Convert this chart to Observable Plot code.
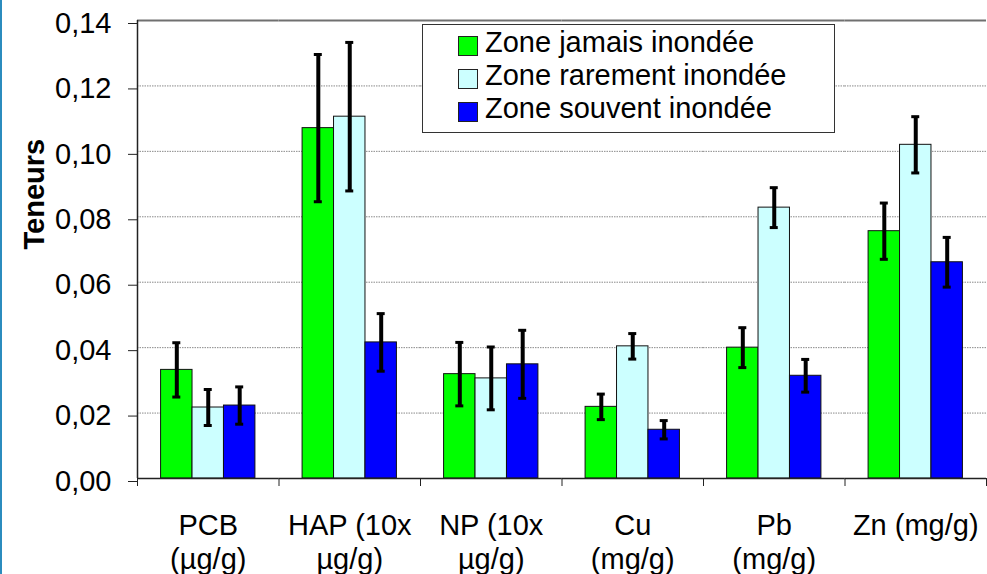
<!DOCTYPE html>
<html>
<head>
<meta charset="utf-8">
<script src="https://cdn.jsdelivr.net/npm/d3@7"></script>
<script src="https://cdn.jsdelivr.net/npm/@observablehq/plot@0.6"></script>
<style>
  html, body { margin: 0; padding: 0; background: #fff; }
  #wrap { position: relative; width: 987px; height: 574px; overflow: hidden; font-family: "Liberation Sans", Arial, sans-serif; }
  #chart svg { display: block; }
  #edge { position: absolute; left: 0; top: 0; width: 2px; height: 574px; background: #2b8cbe; }
  #legend { position: absolute; left: 422px; top: 24px; width: 411px; height: 107px; border: 1px solid #333; background: #fff; }
  .row { position: absolute; left: 0; height: 33px; line-height: 33px; font-size: 29px; color: #000; white-space: nowrap; }
  .sw { position: absolute; left: 35px; top: 10px; width: 18px; height: 18px; border: 1px solid #222; }
  .lab { position: absolute; left: 62px; top: 0; }
</style>
</head>
<body>
<div id="wrap"><div id="chart"></div><div id="legend"></div><div id="edge"></div></div>
<script>
// ---- data ----
const categories = ["PCB (µg/g)", "HAP (10x µg/g)", "NP (10x µg/g)", "Cu (mg/g)", "Pb (mg/g)", "Zn (mg/g)"];
const categoryLabels = ["PCB\n(µg/g)", "HAP (10x\nµg/g)", "NP (10x\nµg/g)", "Cu\n(mg/g)", "Pb\n(mg/g)", "Zn (mg/g)"];
const series = ["Zone jamais inondée", "Zone rarement inondée", "Zone souvent inondée"];
const colors = ["#00ff00", "#ccffff", "#0000ff"];
const jamais      = [0.0332, 0.1071, 0.0319, 0.0219, 0.0400, 0.0756];
const jamaisErr   = [0.0083, 0.0225, 0.0097, 0.0039, 0.0061, 0.0086];
const rarement    = [0.0217, 0.1106, 0.0306, 0.0404, 0.0828, 0.1020];
const rarementErr = [0.0055, 0.0227, 0.0096, 0.0039, 0.0061, 0.0086];
const souvent     = [0.0223, 0.0416, 0.0349, 0.0149, 0.0314, 0.0661];
const souventErr  = [0.0057, 0.0088, 0.0104, 0.0028, 0.0050, 0.0076];
const yTicks = [0, 0.02, 0.04, 0.06, 0.08, 0.10, 0.12, 0.14];
const yTickLabels = ["0,00", "0,02", "0,04", "0,06", "0,08", "0,10", "0,12", "0,14"];
const yTitle = "Teneurs";

// ---- table ----
const values = [jamais, rarement, souvent];
const errors = [jamaisErr, rarementErr, souventErr];
const rows = categories.flatMap((c, i) => series.map((s, j) => ({
  cat: c, series: s, value: values[j][i], lo: values[j][i] - errors[j][i], hi: values[j][i] + errors[j][i]
})));

// ---- layout ----
const W = 987, H = 574, mL = 137, mR = 1, mT = 20, mB = 96;
const facetW = (W - mL - mR) / categories.length;
const padOuter = 0.75;
const step = facetW / (series.length + 2 * padOuter);
const capInset = (step - 8) / 2;
const yMax = yTicks[yTicks.length - 1];
const FS = 29;

const chart = Plot.plot({
  width: W, height: H,
  marginLeft: mL, marginRight: mR, marginTop: mT, marginBottom: mB,
  style: { fontFamily: '"Liberation Sans", Arial, sans-serif', fontSize: FS + "px", color: "#000", background: "transparent" },
  fx: { domain: categories, padding: 0, round: false, label: null },
  x: { domain: series, paddingInner: 0, paddingOuter: padOuter, round: false, axis: null },
  y: { domain: [0, yMax], axis: null },
  color: { domain: series, range: colors },
  marks: [
    Plot.ruleY(yTicks.slice(1, -1), { stroke: "#8a8a8a", strokeDasharray: "1.5,1", strokeWidth: 1 }),
    Plot.ruleY([yMax], { stroke: "#707070", strokeWidth: 2 }),
    Plot.barY(rows, { fx: "cat", x: "series", y: "value", fill: "series", stroke: "#111", strokeWidth: 1 }),
    Plot.ruleX(rows, { fx: "cat", x: "series", y1: "lo", y2: "hi", stroke: "#000", strokeWidth: 4 }),
    Plot.tickY(rows, { fx: "cat", x: "series", y: "lo", stroke: "#000", strokeWidth: 3, insetLeft: capInset, insetRight: capInset }),
    Plot.tickY(rows, { fx: "cat", x: "series", y: "hi", stroke: "#000", strokeWidth: 3, insetLeft: capInset, insetRight: capInset }),
    Plot.ruleY([0], { stroke: "#222", strokeWidth: 1.5 }),
    Plot.ruleX([{ cat: categories[0], s: series[0] }], { fx: "cat", x: "s", y1: 0, y2: yMax, dx: -(padOuter + 0.5) * step, stroke: "#222", strokeWidth: 1.5 }),
    Plot.axisY({ ticks: yTicks, tickSize: 9, tickPadding: 17, dy: 3, tickFormat: (d) => yTickLabels[yTicks.indexOf(d)], fontSize: FS, label: null, stroke: "#222" }),
    Plot.text([{ cat: categories[0], t: yTitle }], { fx: "cat", text: "t", frameAnchor: "left", dx: -103, rotate: -90, fontWeight: "bold", fontSize: FS }),
    Plot.axisFx({ anchor: "bottom", tickSize: 8, tickFormat: () => "", dx: -facetW / 2, label: null, stroke: "#222" }),
    Plot.axisFx({ anchor: "bottom", ticks: [categories[categories.length - 1]], tickSize: 8, tickFormat: () => "", dx: facetW / 2, label: null, stroke: "#222" }),
    Plot.axisFx({ anchor: "bottom", tickSize: 0, tickPadding: 32, lineHeight: 1.18, fontSize: FS, tickFormat: (d) => categoryLabels[categories.indexOf(d)], label: null })
  ]
});
document.getElementById("chart").appendChild(chart);

// ---- legend ----
const legend = document.getElementById("legend");
series.forEach((s, j) => {
  const row = document.createElement("div");
  row.className = "row";
  row.style.top = (1 + 33 * j) + "px";
  const sw = document.createElement("div");
  sw.className = "sw";
  sw.style.background = colors[j];
  const lab = document.createElement("div");
  lab.className = "lab";
  lab.textContent = s;
  row.appendChild(sw);
  row.appendChild(lab);
  legend.appendChild(row);
});
</script>
</body>
</html>
